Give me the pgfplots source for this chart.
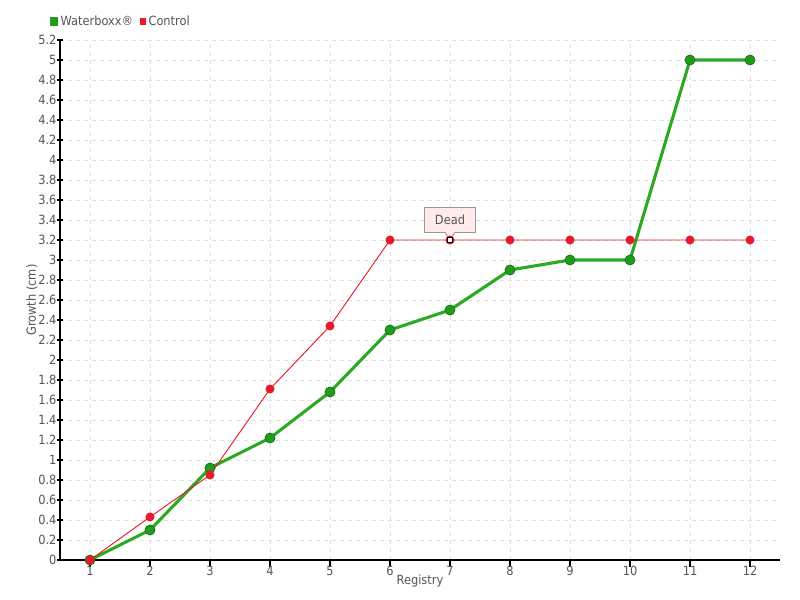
\documentclass[border=0pt]{standalone}
\usepackage{fontspec}
\setmainfont{DejaVu Sans Condensed}
\usepackage{pgfplots}
\pgfplotsset{compat=1.18}
\usetikzlibrary{shapes.callouts}
\definecolor{txt}{HTML}{555555}
\definecolor{gfill}{HTML}{229A1C}
\definecolor{gdark}{HTML}{17701A}
\definecolor{gline}{HTML}{2AAA22}
\definecolor{rfill}{HTML}{E8192C}
\begin{document}
\begin{tikzpicture}
\useasboundingbox (-45pt,-30pt) rectangle (555pt,420pt);
\begin{axis}[
  scale only axis, width=540pt, height=390pt,
  at={(0,0)}, anchor=south west,
  xmin=0.5, xmax=12.5, ymin=0, ymax=5.2,
  axis lines*=left,
  axis line style={black, line width=0.9pt},
  xtick={1,...,12},
  ytick={0,0.2,...,5.21},
  yticklabel style={/pgf/number format/fixed, /pgf/number format/precision=1, inner sep=0.5pt, xshift=0.5pt},
  xticklabel style={yshift=4pt},
  /pgf/number format/assume math mode=true,
  tick style={black, line width=0.8pt},
  major tick length=5pt,
  tick align=center,
  xtick align=outside,
  grid=major,
  major grid style={dashed, color=black!12, line width=0.6pt},
  ticklabel style={font=\fontsize{9.5}{11}\selectfont, text=txt},
  xlabel={Registry}, ylabel={Growth (cm)},
  every axis x label/.style={at={(rel axis cs:0.5,0)}, anchor=center, yshift=-15.5pt},
  every axis y label/.style={at={(rel axis cs:0,0.5)}, rotate=90, anchor=center, yshift=21pt},
  label style={font=\fontsize{9.5}{11}\selectfont, text=txt},
  legend style={draw=none, fill=none, legend columns=-1, at={(rel axis cs:0,1)}, anchor=west, xshift=-11pt, yshift=14pt,
    font=\fontsize{9.5}{11}\selectfont, text=txt, /tikz/every even column/.append style={column sep=3pt}},
  legend cell align=left,
]
\addplot[color=gline, line width=2.3pt, mark=*, mark size=3.8pt, mark options={fill=gfill, draw=gdark, line width=0.5pt},
  legend image code/.code={\fill[gfill] (-2pt,-2pt) rectangle (2pt,2pt);}]
  coordinates {(1,0) (2,0.3) (3,0.92) (4,1.22) (5,1.68) (6,2.3) (7,2.5) (8,2.9) (9,3.0) (10,3.0) (11,5.0) (12,5.0)};
\addlegendentry{Waterboxx®}
\addplot[color=rfill, line width=0.7pt, mark=*, mark size=3pt, mark options={fill=rfill, draw=rfill},
  legend image code/.code={\fill[rfill] (-2pt,-2pt) rectangle (2pt,2pt);}]
  coordinates {(1,0) (2,0.43) (3,0.85) (4,1.71) (5,2.34) (6,3.2) (7,3.2) (8,3.2) (9,3.2) (10,3.2) (11,3.2) (12,3.2)};
\addlegendentry{Control}
\node[rectangle callout, draw=black!60, fill=red!8, minimum width=38pt, minimum height=19pt, inner sep=2pt,
  font=\fontsize{9.5}{11}\selectfont, text=txt, callout absolute pointer={(axis cs:7,3.2)}]
  at (axis cs:7,3.2) [yshift=15pt] {Dead};
\addplot[only marks, mark=square*, mark size=1.8pt, mark options={fill=white, draw=black, line width=0.8pt}, forget plot]
  coordinates {(7,3.2)};
\end{axis}
\end{tikzpicture}
\end{document}
